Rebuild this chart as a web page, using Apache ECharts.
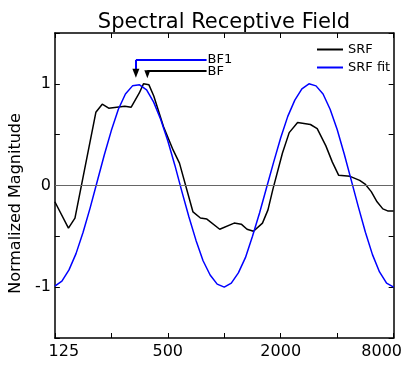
<!DOCTYPE html>
<html>
<head>
<meta charset="utf-8">
<script src="https://cdn.jsdelivr.net/npm/echarts@6/dist/echarts.min.js"></script>
<style>
  html, body { margin: 0; padding: 0; background: #fff; }
  #chart { width: 405px; height: 365px; }
</style>
</head>
<body>
<div id="chart"></div>
<script>
// Measured spectral receptive field (frequency in Hz, normalized magnitude)
const srfFreq = [125, 147.7, 160, 206.8, 223.6, 242.1, 267.2, 295.1, 319.1, 352.5,
  370.9, 396.8, 421, 474.1, 533.6, 577.1, 681.3, 746.3, 807.9, 945.9,
  1129.8, 1232, 1322.6, 1431.9, 1598.7, 1710.4, 1815, 2043.5, 2220, 2461,
  2881, 3130, 3482, 3770, 4076, 4684, 5272, 5660, 6077, 6525,
  7006, 7434, 8000];
const srfValue = [-0.16, -0.42, -0.32, 0.72, 0.80, 0.76, 0.77, 0.78, 0.77, 0.91,
  1.00, 0.99, 0.88, 0.58, 0.35, 0.22, -0.26, -0.32, -0.33, -0.43,
  -0.37, -0.38, -0.43, -0.45, -0.37, -0.24, -0.04, 0.32, 0.52, 0.62,
  0.60, 0.56, 0.39, 0.23, 0.10, 0.09, 0.05, 0.01, -0.06, -0.16,
  -0.23, -0.25, -0.25];

// Fitted curve, sampled every 1/8 octave
const fitFreq = [125, 136.3, 148.7, 162.1, 176.8, 192.8, 210.2, 229.3, 250, 272.6,
  297.3, 324.2, 353.6, 385.6, 420.4, 458.5, 500, 545.3, 594.6, 648.4,
  707.1, 771.1, 840.9, 917.0, 1000, 1090.5, 1189.2, 1296.8, 1414.2, 1542.2,
  1681.8, 1834.0, 2000, 2181.0, 2378.4, 2593.7, 2828.4, 3084.4, 3363.6, 3668.0,
  4000, 4362.1, 4756.8, 5187.5, 5656.9, 6168.8, 6727.2, 7336.0, 8000];
const fitValue = [-0.99, -0.94, -0.83, -0.67, -0.46, -0.22, 0.04, 0.30, 0.54, 0.75,
  0.90, 0.98, 0.99, 0.94, 0.82, 0.65, 0.44, 0.20, -0.06, -0.31,
  -0.54, -0.74, -0.88, -0.97, -1.00, -0.96, -0.86, -0.71, -0.50, -0.27,
  -0.02, 0.23, 0.47, 0.68, 0.84, 0.95, 1.00, 0.98, 0.90, 0.75,
  0.55, 0.31, 0.05, -0.21, -0.46, -0.68, -0.85, -0.96, -1.00];

// Labelled tick values
const freqTickLabels = [125, 500, 2000, 8000];
const magTickLabels = [-1, 0, 1];

// Best frequencies (Hz) marked with arrows
const bestFreqFit = 338;   // BF1
const bestFreq = 389;      // BF

const baseFreq = 125;
const octaves = f => Math.log2(f / baseFreq);

const FONT = 'DejaVu Sans';
const chart = echarts.init(document.getElementById('chart'), null, { renderer: 'canvas' });

const labelX = octaves(805);

const frameLine = { show: true, onZero: false, lineStyle: { color: '#000', width: 1.5 } };
const innerTick = { show: true, inside: true, length: 5, lineStyle: { color: '#000', width: 1 } };

const option = {
  animation: false,
  textStyle: { fontFamily: FONT, color: '#000' },
  title: {
    text: 'Spectral Receptive Field',
    left: 219,
    top: 7,
    textAlign: 'center',
    textStyle: { fontFamily: FONT, fontSize: 21, fontWeight: 'normal', color: '#000' }
  },
  legend: {
    orient: 'vertical',
    left: 317,
    top: 43,
    padding: 0,
    icon: 'rect',
    itemWidth: 26,
    itemHeight: 2,
    itemGap: 5,
    textStyle: { fontFamily: FONT, fontSize: 13, color: '#000' },
    data: [
      { name: 'SRF', itemStyle: { color: '#000' } },
      { name: 'SRF fit', itemStyle: { color: '#0000ff' } }
    ]
  },
  grid: { left: 44, right: 10, top: 33, bottom: 27, containLabel: false },
  xAxis: [
    {
      type: 'value', min: 0, max: 6, interval: 1, position: 'bottom',
      axisLine: frameLine,
      axisTick: innerTick,
      splitLine: { show: false },
      axisLabel: {
        margin: 6, fontSize: 16, color: '#000', fontFamily: FONT,
        formatter: v => {
          const f = Math.round(baseFreq * Math.pow(2, v));
          if (freqTickLabels.indexOf(f) < 0) return '';
          if (f === freqTickLabels[0]) return '{first|' + f + '}';
          if (f === freqTickLabels[freqTickLabels.length - 1]) return '{last|' + f + '}';
          return String(f);
        },
        rich: {
          first: { fontSize: 16, fontFamily: FONT, color: '#000', padding: [0, 0, 0, 18] },
          last: { fontSize: 16, fontFamily: FONT, color: '#000', padding: [0, 24, 0, 0] }
        }
      }
    },
    {
      type: 'value', min: 0, max: 6, interval: 1, position: 'top',
      axisLine: frameLine,
      axisTick: innerTick,
      axisLabel: { show: false },
      splitLine: { show: false }
    }
  ],
  yAxis: [
    {
      type: 'value', min: -1.5, max: 1.5, interval: 0.5, position: 'left',
      name: 'Normalized Magnitude',
      nameLocation: 'middle',
      nameGap: 19,
      nameTextStyle: { fontFamily: FONT, fontSize: 16, color: '#000', padding: [0, 36, 0, 0] },
      axisLine: frameLine,
      axisTick: innerTick,
      splitLine: { show: false },
      axisLabel: {
        margin: 4, fontSize: 16, color: '#000', fontFamily: FONT,
        formatter: v => (magTickLabels.indexOf(v) >= 0 ? String(v) : '')
      }
    },
    {
      type: 'value', min: -1.5, max: 1.5, interval: 0.5, position: 'right',
      axisLine: frameLine,
      axisTick: innerTick,
      axisLabel: { show: false },
      splitLine: { show: false }
    }
  ],
  series: [
    {
      name: 'SRF',
      type: 'line',
      data: srfFreq.map((f, i) => [octaves(f), srfValue[i]]),
      showSymbol: false,
      symbol: 'none',
      color: '#000',
      lineStyle: { color: '#000', width: 1.5 },
      z: 3,
      markLine: {
        silent: true,
        symbol: ['none', 'none'],
        label: { show: false },
        lineStyle: { color: '#666', width: 1, type: 'solid' },
        data: [{ yAxis: 0 }]
      }
    },
    {
      name: 'SRF fit',
      type: 'line',
      data: fitFreq.map((f, i) => [octaves(f), fitValue[i]]),
      showSymbol: false,
      symbol: 'none',
      color: '#0000ff',
      lineStyle: { color: '#0000ff', width: 1.5 },
      z: 4,
      markLine: {
        silent: true,
        symbol: ['none', 'none'],
        label: { show: false },
        data: [
          // BF1 leader
          [
            { coord: [octaves(bestFreqFit), 1.235], lineStyle: { color: '#0000ff', width: 2, type: 'solid' } },
            { coord: [labelX, 1.235],
              label: { show: true, position: 'end', distance: 1, formatter: 'BF1',
                       color: '#000', fontSize: 13, fontFamily: FONT } }
          ],
          [
            { coord: [octaves(bestFreqFit), 1.235], lineStyle: { color: '#0000ff', width: 2, type: 'solid' } },
            { coord: [octaves(bestFreqFit), 1.14] }
          ],
          [
            { coord: [octaves(bestFreqFit), 1.14], lineStyle: { color: '#000', width: 1.5, type: 'solid' } },
            { coord: [octaves(bestFreqFit), 1.105], symbol: 'triangle', symbolSize: [7, 9] }
          ],
          // BF leader
          [
            { coord: [octaves(bestFreq), 1.125], lineStyle: { color: '#000', width: 2, type: 'solid' } },
            { coord: [labelX, 1.125],
              label: { show: true, position: 'end', distance: 1, formatter: 'BF',
                       color: '#000', fontSize: 13, fontFamily: FONT } }
          ],
          [
            { coord: [octaves(bestFreq), 1.125], lineStyle: { color: '#000', width: 1.5, type: 'solid' } },
            { coord: [octaves(bestFreq), 1.095], symbol: 'triangle', symbolSize: [6, 8] }
          ]
        ]
      }
    }
  ]
};

chart.setOption(option);
</script>
</body>
</html>
